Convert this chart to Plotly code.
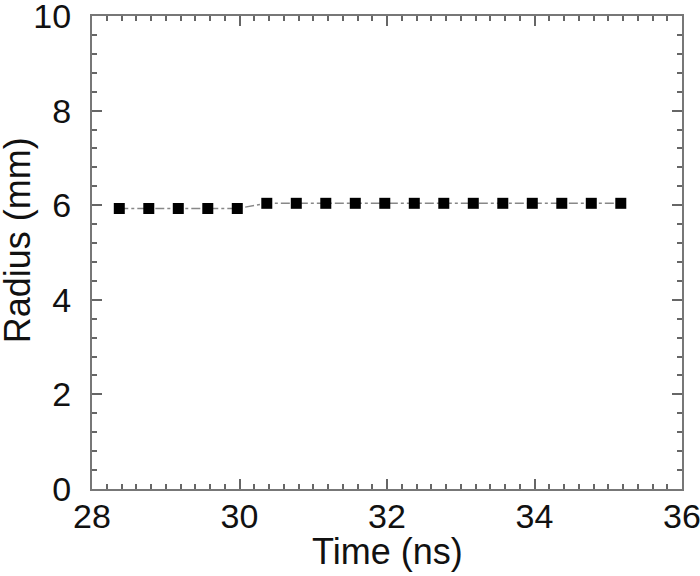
import plotly.graph_objects as go

time_ns = [28.37, 28.77, 29.17, 29.57, 29.97, 30.37, 30.77, 31.17, 31.57,
           31.97, 32.37, 32.77, 33.17, 33.57, 33.97, 34.37, 34.77, 35.17]
radius_mm = [5.93, 5.93, 5.93, 5.93, 5.93, 6.04, 6.04, 6.04, 6.04,
             6.04, 6.04, 6.04, 6.04, 6.04, 6.04, 6.04, 6.04, 6.04]

x_ticks = [28, 30, 32, 34, 36]
y_ticks = [0, 2, 4, 6, 8, 10]

FONT = "Liberation Sans, Arial"

fig = go.Figure()
fig.add_trace(go.Scatter(
    x=time_ns, y=radius_mm, mode="lines+markers",
    line=dict(color="#888888", width=1.5, dash="dashdot"),
    marker=dict(symbol="square", size=11, color="black"),
    showlegend=False,
))

axis_common = dict(
    showgrid=False, zeroline=False, showline=True, linecolor="#777777", linewidth=2,
    mirror="allticks", ticks="inside", ticklen=10, tickwidth=2, tickcolor="#666666",
    tickfont=dict(family=FONT, size=34, color="#111111"),
    automargin=False, ticklabeloverflow="allow",
)

fig.update_xaxes(
    range=[28, 36], tickvals=x_ticks, ticktext=[str(v) for v in x_ticks],
    minor=dict(dtick=0.2, tick0=28, ticks="inside", ticklen=5, tickwidth=1.5, tickcolor="#666666"),
    ticklabelstandoff=-4,
    **axis_common,
)
fig.update_yaxes(
    range=[0, 10], tickvals=y_ticks, ticktext=[str(v) for v in y_ticks],
    minor=dict(dtick=0.4, tick0=0, ticks="inside", ticklen=5, tickwidth=1.5, tickcolor="#666666"),
    ticklabelstandoff=12,
    **axis_common,
)

fig.add_annotation(
    text="Time (ns)", xref="paper", yref="paper",
    x=0.5, y=-0.132, xanchor="center", yanchor="middle", showarrow=False,
    font=dict(family=FONT, size=36, color="#111111"),
)
fig.add_annotation(
    text="Radius (mm)", textangle=-90, xref="paper", yref="paper",
    x=-0.127, y=0.526, xanchor="center", yanchor="middle", showarrow=False,
    font=dict(family=FONT, size=36, color="#111111"),
)

fig.update_layout(
    width=700, height=576,
    margin=dict(l=92, r=18, t=16, b=87),
    plot_bgcolor="white", paper_bgcolor="white",
)

fig.write_html("out.html", config={"displayModeBar": False},
               post_script="document.body.style.margin='0';")
